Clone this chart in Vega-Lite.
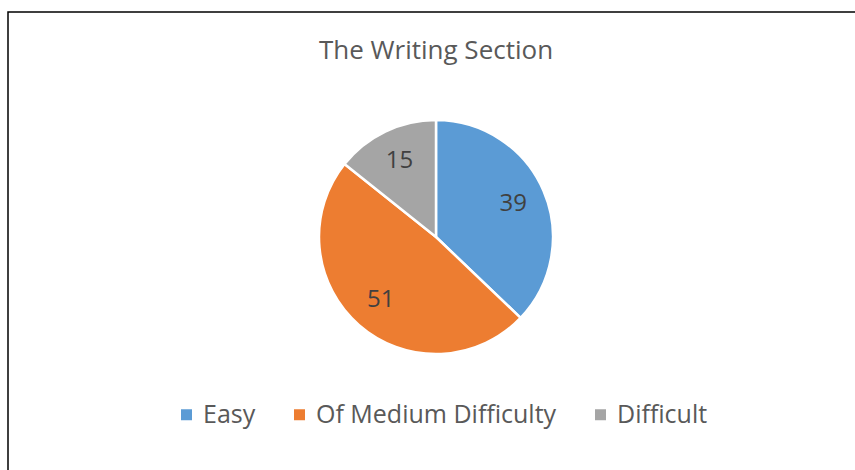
{
  "$schema": "https://vega.github.io/schema/vega-lite/v6.json",
  "autosize": {"type": "none"},
  "padding": {"left": 8, "top": 12, "right": 0, "bottom": 0},
  "width": 856,
  "height": 480,
  "background": "white",
  "view": {"stroke": "#000000", "strokeWidth": 1.5},
  "title": {
    "text": "The Writing Section",
    "font": "Open Sans",
    "fontSize": 26,
    "fontWeight": "normal",
    "color": "#595959",
    "anchor": "middle",
    "frame": "group",
    "baseline": "middle",
    "offset": -65
  },
  "data": {
    "values": [
      {"category": "Easy", "value": 39, "order": 1},
      {"category": "Of Medium Difficulty", "value": 51, "order": 2},
      {"category": "Difficult", "value": 15, "order": 3}
    ]
  },
  "encoding": {
    "theta": {"field": "value", "type": "quantitative", "stack": true},
    "order": {"field": "order", "type": "quantitative"}
  },
  "layer": [
    {
      "mark": {"type": "arc", "outerRadius": 117, "stroke": "white", "strokeWidth": 2.5, "yOffset": -15},
      "encoding": {
        "color": {
          "field": "category",
          "type": "nominal",
          "scale": {
            "domain": ["Easy", "Of Medium Difficulty", "Difficult"],
            "range": ["#5B9BD5", "#ED7D31", "#A5A5A5"]
          },
          "legend": {
            "title": null,
            "orient": "none",
            "legendX": 166,
            "legendY": 390,
            "direction": "horizontal",
            "symbolType": "square",
            "symbolSize": 121,
            "symbolStrokeWidth": 0,
            "labelFont": "Open Sans",
            "labelFontSize": 25,
            "labelLimit": 400,
            "labelColor": "#595959",
            "columnPadding": 31,
            "labelOffset": 4
          }
        }
      }
    },
    {
      "mark": {"type": "text", "radius": 84, "font": "Open Sans", "fontSize": 24, "color": "#404040", "yOffset": -15},
      "encoding": {
        "text": {"field": "value", "type": "quantitative"}
      }
    }
  ]
}
